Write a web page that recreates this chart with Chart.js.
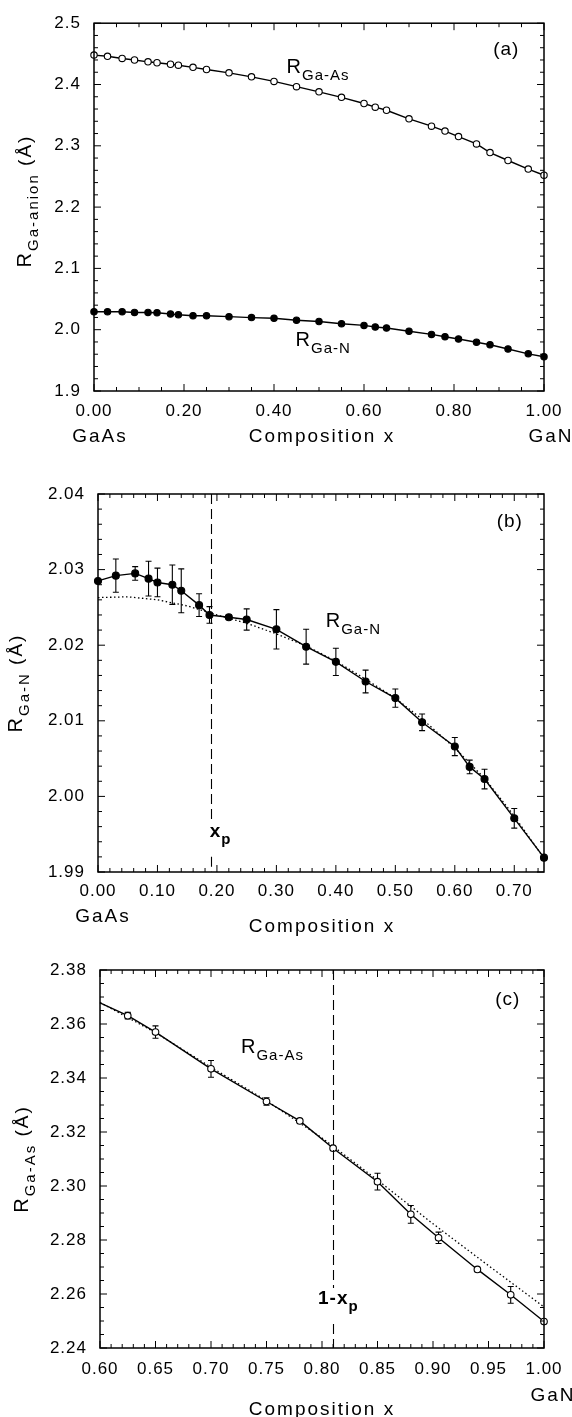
<!DOCTYPE html>
<html>
<head>
<meta charset="utf-8">
<script src="https://cdn.jsdelivr.net/npm/chart.js@4/dist/chart.umd.min.js"></script>
<style>
  body { margin: 0; background: #fff; width: 572px; height: 1417px; position: relative; overflow: hidden; }
  canvas { position: absolute; left: 0; display: block; }
</style>
</head>
<body>
<canvas id="chartA" style="top:0px"></canvas>
<canvas id="chartB" style="top:470px"></canvas>
<canvas id="chartC" style="top:940px"></canvas>
<script>
// --- panel (a): both bond lengths across the whole composition range ---
const X_A = [0, 0.03, 0.0625, 0.09, 0.12, 0.14, 0.17, 0.1875, 0.22, 0.25, 0.30, 0.35, 0.40, 0.45,
             0.50, 0.55, 0.60, 0.625, 0.65, 0.70, 0.75, 0.78, 0.81, 0.85, 0.88, 0.92, 0.965, 1.0];
const R_GAAS_A = [2.448, 2.446, 2.4425, 2.440, 2.437, 2.4355, 2.433, 2.4315, 2.428, 2.4245, 2.419, 2.4125, 2.405, 2.3965,
                  2.388, 2.379, 2.369, 2.363, 2.358, 2.344, 2.332, 2.324, 2.315, 2.303, 2.289, 2.276, 2.262, 2.252];
const R_GAN_A = [2.0292, 2.0292, 2.0292, 2.0281, 2.0281, 2.0276, 2.0255, 2.0244, 2.0228, 2.0228, 2.0213, 2.0197, 2.0186, 2.0155,
                 2.0134, 2.0097, 2.0070, 2.0044, 2.0028, 1.9975, 1.9923, 1.9886, 1.9849, 1.9796, 1.9754, 1.9685, 1.9606, 1.9559];
const X_TICKS_A = [0, 0.2, 0.4, 0.6, 0.8, 1.0];
const Y_TICKS_A = [1.9, 2.0, 2.1, 2.2, 2.3, 2.4, 2.5];

// --- panel (b): Ga-N on the GaAs-rich side ---
const X_B = [0, 0.03, 0.0625, 0.085, 0.10, 0.125, 0.14, 0.17, 0.1875, 0.22, 0.25, 0.30, 0.35, 0.40,
             0.45, 0.50, 0.545, 0.60, 0.625, 0.65, 0.70, 0.75];
const R_GAN_B = [2.0285, 2.0292, 2.0295, 2.0288, 2.0283, 2.0280, 2.0272, 2.0253, 2.0240, 2.0237, 2.0234, 2.0221, 2.0198, 2.0178,
                 2.0152, 2.0130, 2.0098, 2.0066, 2.0039, 2.0023, 1.9971, 1.9919];
const ERR_B = [0, 0.0022, 0.0009, 0.0023, 0.0019, 0.0026, 0.0029, 0.0015, 0.0011, 0.0003, 0.0014, 0.0026, 0.0023, 0.0018,
               0.0015, 0.0012, 0.0011, 0.0012, 0.0009, 0.0013, 0.0013, 0];
const X_FIT_B = [0, 0.05, 0.10, 0.15, 0.20, 0.25, 0.30, 0.35, 0.40, 0.45, 0.50, 0.55, 0.60, 0.65, 0.70, 0.75];
const R_FIT_B = [2.0263, 2.0264, 2.0260, 2.0252, 2.0240, 2.0229, 2.0215, 2.0199, 2.0179, 2.0155, 2.0130, 2.0099, 2.0064, 2.0024, 1.9974, 1.9918];
const X_TICKS_B = [0, 0.1, 0.2, 0.3, 0.4, 0.5, 0.6, 0.7];
const Y_TICKS_B = [1.99, 2.00, 2.01, 2.02, 2.03, 2.04];
const XP = 0.19;

// --- panel (c): Ga-As on the GaN-rich side ---
const X_C = [0.60, 0.625, 0.65, 0.70, 0.75, 0.78, 0.81, 0.85, 0.88, 0.905, 0.94, 0.97, 1.00];
const R_GAAS_C = [2.3678, 2.3631, 2.3570, 2.3434, 2.3313, 2.3241, 2.3140, 2.3016, 2.2895, 2.2808, 2.2691, 2.2597, 2.2498];
const ERR_C = [0, 0.0012, 0.0023, 0.0031, 0.0014, 0.0005, 0.0005, 0.0031, 0.0033, 0.0021, 0.0004, 0.0031, 0];
const X_FIT_C = [0.60, 0.65, 0.70, 0.75, 0.80, 0.85, 0.90, 0.95, 1.00];
const R_FIT_C = [2.3680, 2.3568, 2.3440, 2.3316, 2.3178, 2.3022, 2.2860, 2.2705, 2.2552];
const X_TICKS_C = [0.60, 0.65, 0.70, 0.75, 0.80, 0.85, 0.90, 0.95, 1.00];
const Y_TICKS_C = [2.24, 2.26, 2.28, 2.30, 2.32, 2.34, 2.36, 2.38];

const FONT = "'Liberation Sans', Arial, Helvetica, sans-serif";
const W = 572;

const pts = (xs, ys) => xs.map((x, i) => ({ x: x, y: ys[i] }));

function stepTicks(min, max, step) {
    const out = [];
    const n = Math.floor((max - min) / step + 1e-9);
    for (let i = 0; i <= n; i++) out.push(+(min + i * step).toFixed(6));
    return out;
}

// text with subscripts: parts = [{t, size, dy}]
function drawRich(ctx, parts, x, y, align, rotated, bold, ls) {
    ctx.save();
    ctx.translate(x, y);
    if (rotated) ctx.rotate(-Math.PI / 2);
    ctx.letterSpacing = (ls || 0) + 'px';
    ctx.textBaseline = 'alphabetic';
    ctx.textAlign = 'left';
    ctx.fillStyle = '#000';
    const fontOf = p => (bold ? 'bold ' : '') + p.size + 'px ' + FONT;
    const widths = parts.map(p => { ctx.font = fontOf(p); return ctx.measureText(p.t).width; });
    const total = widths.reduce((a, b) => a + b, 0);
    let cx = align === 'center' ? -total / 2 : (align === 'right' ? -total : 0);
    parts.forEach((p, i) => {
        ctx.font = fontOf(p);
        ctx.fillText(p.t, cx, p.dy || 0);
        cx += widths[i];
    });
    ctx.restore();
}

function paperPlugin(p) {
    return {
        id: 'paper',
        beforeDraw(chart) {
            chart.ctx.letterSpacing = '1px';
        },
        beforeDatasetsDraw(chart) {
            const ctx = chart.ctx, xs = chart.scales.x, ys = chart.scales.y;
            if (!p.errors) return;
            ctx.save();
            ctx.strokeStyle = '#000';
            ctx.lineWidth = 1.1;
            p.errors.x.forEach((xv, i) => {
                const e = p.errors.err[i];
                if (!e) return;
                const px = xs.getPixelForValue(xv);
                const y1 = ys.getPixelForValue(p.errors.y[i] + e);
                const y2 = ys.getPixelForValue(p.errors.y[i] - e);
                ctx.beginPath();
                ctx.moveTo(px, y1); ctx.lineTo(px, y2);
                ctx.moveTo(px - 3, y1); ctx.lineTo(px + 3, y1);
                ctx.moveTo(px - 3, y2); ctx.lineTo(px + 3, y2);
                ctx.stroke();
            });
            ctx.restore();
        },
        afterDraw(chart) {
            const ctx = chart.ctx, xs = chart.scales.x, ys = chart.scales.y;
            const a = chart.chartArea;
            ctx.save();
            ctx.letterSpacing = '0px';
            ctx.strokeStyle = '#000';

            // dashed composition marker, broken around its label
            if (p.vline) {
                const px = Math.round(xs.getPixelForValue(p.vline.x)) + 0.5;
                const ly = ys.getPixelForValue(p.vline.labelY);
                ctx.lineWidth = 1.1;
                ctx.setLineDash([10, 5]);
                ctx.beginPath();
                ctx.moveTo(px, a.top); ctx.lineTo(px, ly - 16);
                ctx.moveTo(px, ly + 20); ctx.lineTo(px, a.bottom);
                ctx.stroke();
                ctx.setLineDash([]);
            }

            // frame
            ctx.lineWidth = 1.5;
            ctx.strokeRect(a.left, a.top, a.right - a.left, a.bottom - a.top);

            // inward ticks on all four sides
            ctx.lineWidth = 1;
            ctx.beginPath();
            const near = (v, list) => list.some(t => Math.abs(t - v) < 1e-6);
            stepTicks(p.xMin, p.xMax, p.xMinor).forEach(v => {
                const len = near(v, p.xTicks) ? 7 : 4;
                const px = xs.getPixelForValue(v);
                ctx.moveTo(px, a.bottom); ctx.lineTo(px, a.bottom - len);
                ctx.moveTo(px, a.top); ctx.lineTo(px, a.top + len);
            });
            stepTicks(p.yMin, p.yMax, p.yMinor).forEach(v => {
                const len = near(v, p.yTicks) ? 7 : 4;
                const py = ys.getPixelForValue(v);
                ctx.moveTo(a.left, py); ctx.lineTo(a.left + len, py);
                ctx.moveTo(a.right, py); ctx.lineTo(a.right - len, py);
            });
            ctx.stroke();
            ctx.restore();

            // labels placed at data positions
            p.notes.forEach(n => {
                drawRich(ctx, n.parts, xs.getPixelForValue(n.x), ys.getPixelForValue(n.y), 'left', false, n.bold, 1);
            });
            // labels placed on the page (below the axis, axis title)
            p.captions.forEach(c => {
                drawRich(ctx, c.parts, c.px, c.py - p.offsetY, c.align || 'center', c.rotated, false, c.ls == null ? 2 : c.ls);
            });
        }
    };
}

function makeChart(id, p) {
    const canvas = document.getElementById(id);
    canvas.width = W;
    canvas.height = p.H;
    const tickFont = { family: FONT, size: 17 };
    return new Chart(canvas, {
        type: 'line',
        data: { datasets: p.datasets },
        options: {
            responsive: false,
            animation: false,
            events: [],
            layout: { padding: { left: 0, top: p.top - p.offsetY, right: W - p.right, bottom: 0 } },
            plugins: { legend: { display: false }, tooltip: { enabled: false } },
            scales: {
                x: {
                    type: 'linear', min: p.xMin, max: p.xMax,
                    grid: { display: false, drawTicks: false },
                    border: { display: false },
                    afterBuildTicks: s => { s.ticks = p.xTicks.map(v => ({ value: v })); },
                    afterFit: s => { s.height = p.offsetY + p.H - p.bottom; },
                    ticks: {
                        autoSkip: false, maxRotation: 0, minRotation: 0, padding: p.xPad,
                        color: '#000', font: tickFont,
                        callback: v => Number(v).toFixed(2)
                    }
                },
                y: {
                    type: 'linear', min: p.yMin, max: p.yMax,
                    grid: { display: false, drawTicks: false },
                    border: { display: false },
                    afterBuildTicks: s => { s.ticks = p.yTicks.map(v => ({ value: v })); },
                    afterFit: s => { s.width = p.left; },
                    ticks: {
                        autoSkip: false, padding: 13,
                        color: '#000', font: tickFont,
                        callback: v => Number(v).toFixed(p.yDigits)
                    }
                }
            }
        },
        plugins: [paperPlugin(p)]
    });
}

const R = (sub, extra) => {
    const parts = [{ t: 'R', size: 20 }, { t: sub, size: 15, dy: 7 }];
    if (extra) parts.push({ t: extra, size: 19 });
    return parts;
};
const lineStyle = { borderColor: '#000', borderWidth: 1.4, tension: 0, clip: false, pointBorderColor: '#000', pointBorderWidth: 1.1 };
const fitStyle = { borderColor: '#000', borderWidth: 1.3, borderDash: [1.5, 2.5], tension: 0, pointRadius: 0, clip: false };

// (a)
makeChart('chartA', {
    offsetY: 0, H: 470, left: 94, right: 544, top: 12, bottom: 391, xPad: 10,
    xMin: 0, xMax: 1, yMin: 1.9, yMax: 2.5, xMinor: 0.05, yMinor: 0.02, yDigits: 1,
    xTicks: X_TICKS_A, yTicks: Y_TICKS_A,
    datasets: [
        Object.assign({ data: pts(X_A, R_GAAS_A), pointRadius: 3.2, pointBackgroundColor: '#fff' }, lineStyle),
        Object.assign({ data: pts(X_A, R_GAN_A), pointRadius: 3.2, pointBackgroundColor: '#000' }, lineStyle)
    ],
    notes: [
        { x: 0.428, y: 2.419, parts: R('Ga-As') },
        { x: 0.448, y: 1.973, parts: R('Ga-N') },
        { x: 0.887, y: 2.448, parts: [{ t: '(a)', size: 19 }] }
    ],
    captions: [
        { px: 100, py: 442, parts: [{ t: 'GaAs', size: 19 }] },
        { px: 322, py: 442, parts: [{ t: 'Composition x', size: 19 }] },
        { px: 551, py: 442, parts: [{ t: 'GaN', size: 19 }] },
        { px: 31, py: 201, rotated: true, parts: R('Ga-anion', ' (Å)') }
    ]
});

// (b)
makeChart('chartB', {
    offsetY: 470, H: 470, left: 98, right: 544, top: 494, bottom: 872, xPad: 9,
    xMin: 0, xMax: 0.75, yMin: 1.99, yMax: 2.04, xMinor: 0.02, yMinor: 0.002, yDigits: 2,
    xTicks: X_TICKS_B, yTicks: Y_TICKS_B,
    errors: { x: X_B, y: R_GAN_B, err: ERR_B },
    vline: { x: XP, labelY: 1.99467 },
    datasets: [
        Object.assign({ data: pts(X_B, R_GAN_B), pointRadius: 3.5, pointBackgroundColor: '#000' }, lineStyle),
        Object.assign({ data: pts(X_FIT_B, R_FIT_B) }, fitStyle)
    ],
    notes: [
        { x: 0.383, y: 2.0224, parts: R('Ga-N') },
        { x: 0.6705, y: 2.0357, parts: [{ t: '(b)', size: 19 }] },
        { x: XP - 0.002, y: 1.99467, bold: true, parts: [{ t: 'x', size: 19 }, { t: 'p', size: 15, dy: 7 }] }
    ],
    captions: [
        { px: 103, py: 922, parts: [{ t: 'GaAs', size: 19 }] },
        { px: 322, py: 932, parts: [{ t: 'Composition x', size: 19 }] },
        { px: 22, py: 683, rotated: true, parts: R('Ga-N', ' (Å)') }
    ]
});

// (c)
makeChart('chartC', {
    offsetY: 940, H: 477, left: 100, right: 544, top: 970, bottom: 1348, xPad: 11,
    xMin: 0.6, xMax: 1.0, yMin: 2.24, yMax: 2.38, xMinor: 0.01, yMinor: 0.005, yDigits: 2,
    xTicks: X_TICKS_C, yTicks: Y_TICKS_C,
    errors: { x: X_C, y: R_GAAS_C, err: ERR_C },
    vline: { x: 1 - XP, labelY: 2.2563 },
    datasets: [
        Object.assign({ data: pts(X_C, R_GAAS_C), pointRadius: c => (c.dataIndex === 0 ? 0 : 3.3), pointBackgroundColor: '#fff' }, lineStyle),
        Object.assign({ data: pts(X_FIT_C, R_FIT_C) }, fitStyle)
    ],
    notes: [
        { x: 0.727, y: 2.3493, parts: R('Ga-As') },
        { x: 0.956, y: 2.3671, parts: [{ t: '(c)', size: 19 }] },
        { x: 0.7964, y: 2.2563, bold: true, parts: [{ t: '1-x', size: 19 }, { t: 'p', size: 15, dy: 7 }] }
    ],
    captions: [
        { px: 553, py: 1401, parts: [{ t: 'GaN', size: 19 }] },
        { px: 322, py: 1415, parts: [{ t: 'Composition x', size: 19 }] },
        { px: 28, py: 1159, rotated: true, parts: R('Ga-As', ' (Å)') }
    ]
});
</script>
</body>
</html>
